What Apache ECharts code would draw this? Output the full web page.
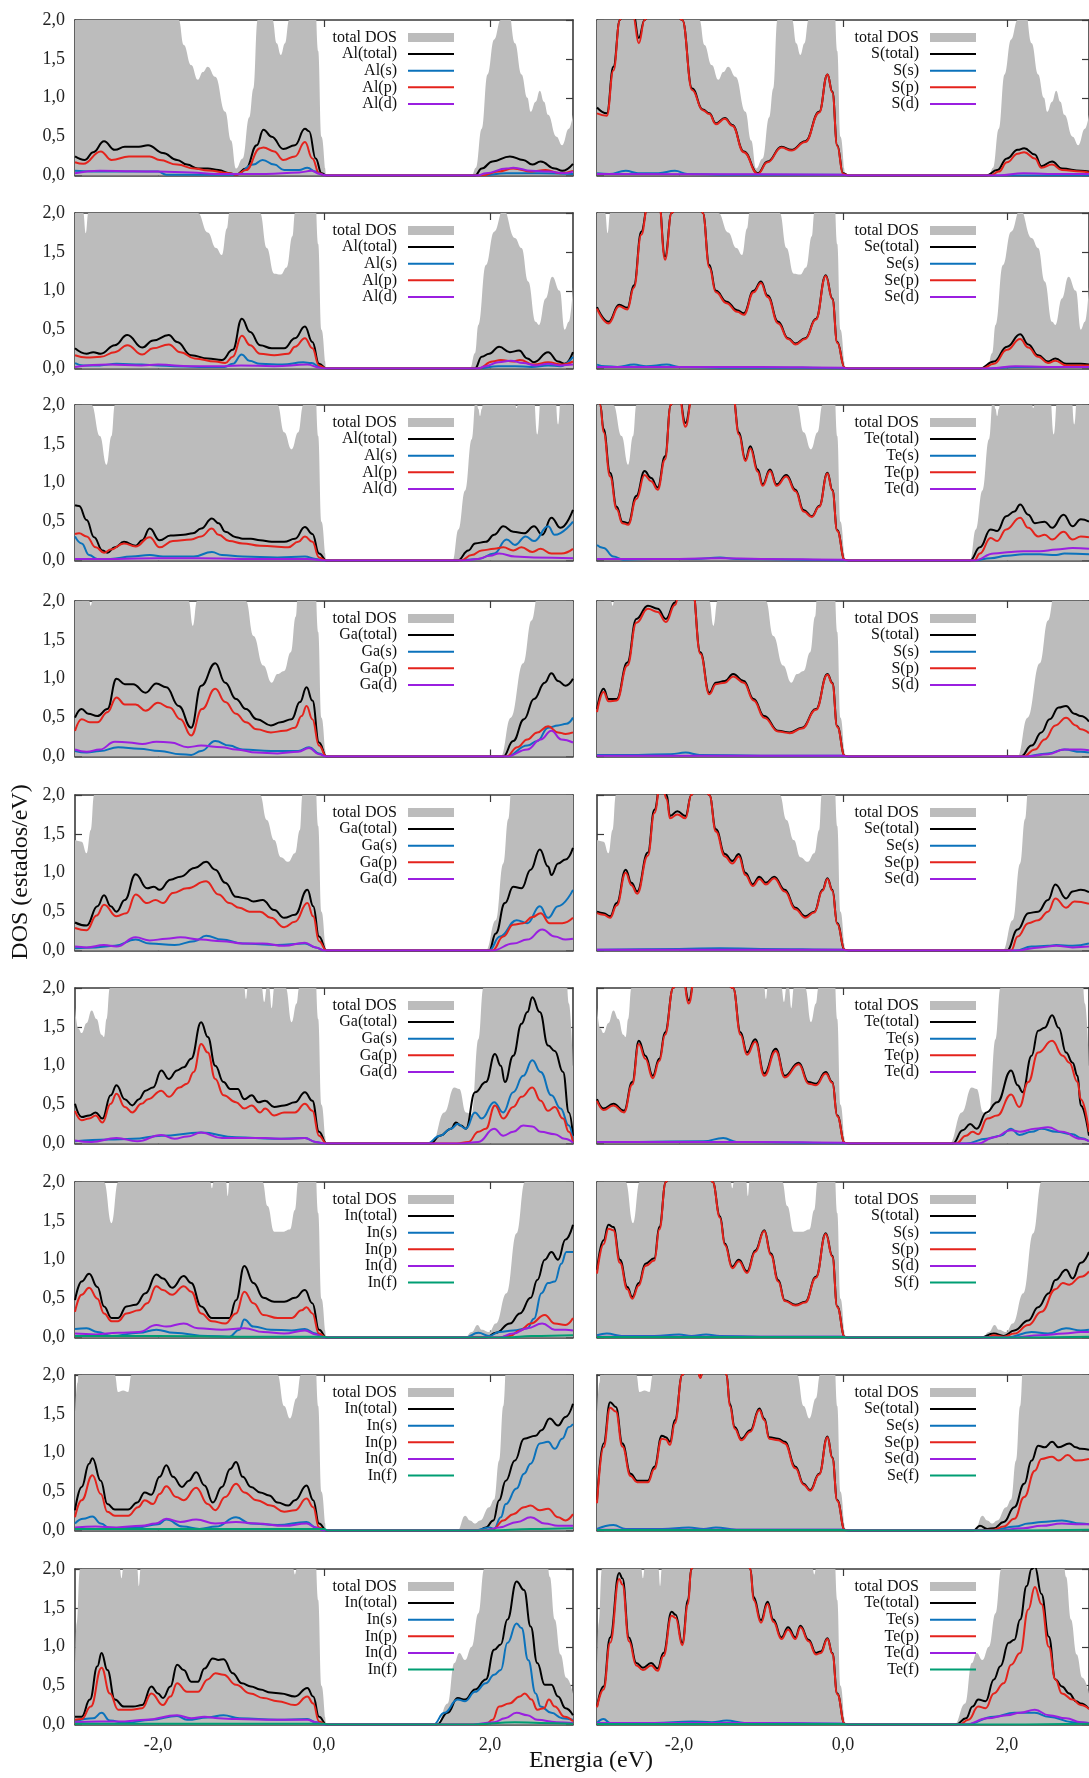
<!DOCTYPE html>
<html>
<head>
<meta charset="utf-8">
<script src="https://cdn.jsdelivr.net/npm/echarts@6/dist/echarts.min.js"></script>
<style>
html,body{margin:0;padding:0;background:#fff}
#chart{width:1089px;height:1778px}
</style>
</head>
<body>
<div id="chart"></div>
<script>
// Projected densities of states (states/eV) vs energy (eV), pairs [E, DOS].
// Total DOS of each compound (drawn as grey area, clipped at 2.0)
const AlS_tdos = [[-3,2.6],[-1.82,2.6],[-1.75,2.0],[-1.69,1.68],[-1.6,1.42],[-1.52,1.23],[-1.46,1.33],[-1.4,1.40],[-1.31,1.27],[-1.19,0.82],[-1.12,0.45],[-1.06,0.09],[-0.98,0.22],[-0.9,0.75],[-0.85,1.12],[-0.8,2.0],[-0.75,2.6],[-0.68,2.6],[-0.62,2.0],[-0.57,1.7],[-0.52,1.55],[-0.47,1.7],[-0.42,2.0],[-0.36,2.6],[-0.12,2.6],[-0.07,1.6],[-0.03,0.5],[0.03,0],[1.78,0],[1.83,0.1],[1.9,0.6],[1.97,1.3],[2.05,1.75],[2.13,2.0],[2.22,2.15],[2.3,1.7],[2.38,1.3],[2.45,1.0],[2.49,0.82],[2.55,0.95],[2.6,1.09],[2.65,0.95],[2.7,0.78],[2.8,0.5],[2.87,0.39],[2.95,0.6],[3.0,0.78]];
const AlSe_tdos = [[-3,2.6],[-2.93,2.6],[-2.9,2.0],[-2.87,1.74],[-2.84,2.0],[-2.8,2.6],[-1.58,2.6],[-1.52,2.0],[-1.4,1.75],[-1.3,1.55],[-1.23,1.46],[-1.17,1.8],[-1.14,2.0],[-1.1,2.6],[-0.82,2.6],[-0.77,2.0],[-0.69,1.55],[-0.6,1.22],[-0.52,1.21],[-0.45,1.3],[-0.38,1.7],[-0.35,2.0],[-0.3,2.6],[-0.12,2.6],[-0.07,1.6],[-0.03,0.5],[0.03,0],[1.76,0],[1.82,0.2],[1.86,0.56],[1.95,1.33],[2.05,1.76],[2.16,2.05],[2.3,1.68],[2.38,1.55],[2.46,1.12],[2.55,0.6],[2.59,0.56],[2.67,0.9],[2.75,1.18],[2.84,1.0],[2.9,0.5],[2.95,0.6],[3.0,1.05]];
const AlTe_tdos = [[-3,2.6],[-2.84,2.6],[-2.8,2.0],[-2.7,1.6],[-2.62,1.23],[-2.56,1.6],[-2.52,2.0],[-2.48,2.6],[-0.62,2.6],[-0.56,2.0],[-0.48,1.65],[-0.39,1.43],[-0.31,1.65],[-0.25,2.0],[-0.21,2.6],[-0.12,2.6],[-0.07,1.6],[-0.03,0.5],[0.03,0],[1.55,0],[1.62,0.4],[1.7,0.9],[1.78,1.56],[1.83,2.1],[1.86,1.95],[1.88,1.86],[1.9,1.95],[1.93,2.2],[2.28,2.2],[2.32,1.96],[2.36,2.2],[2.52,2.2],[2.57,1.62],[2.62,2.2],[2.78,2.2],[2.82,1.75],[2.86,2.2],[3.0,2.6]];
const GaS_tdos = [[-3,2.6],[-2.86,2.6],[-2.83,2.0],[-2.81,1.94],[-2.79,2.0],[-2.76,2.6],[-1.66,2.6],[-1.63,2.0],[-1.58,1.68],[-1.53,2.0],[-1.5,2.6],[-0.98,2.6],[-0.94,2.0],[-0.85,1.55],[-0.73,1.17],[-0.63,0.95],[-0.56,1.06],[-0.48,1.1],[-0.4,1.34],[-0.34,1.8],[-0.31,2.2],[-0.28,2.6],[-0.12,2.6],[-0.07,1.6],[-0.03,0.5],[0.03,0],[2.13,0],[2.25,0.5],[2.4,1.2],[2.5,1.75],[2.58,2.1],[2.65,2.6],[3.0,2.6]];
const GaSe_tdos = [[-3,1.42],[-2.92,1.4],[-2.86,1.25],[-2.81,1.55],[-2.77,2.0],[-2.73,2.6],[-0.82,2.6],[-0.77,2.0],[-0.69,1.68],[-0.6,1.42],[-0.52,1.2],[-0.43,1.14],[-0.35,1.25],[-0.29,1.55],[-0.26,2.0],[-0.23,2.6],[-0.12,2.6],[-0.07,1.6],[-0.03,0.5],[0.03,0],[1.95,0],[2.07,0.39],[2.16,1.12],[2.22,1.69],[2.26,2.1],[2.3,2.6],[3.0,2.6]];
const GaTe_tdos = [[-3,1.75],[-2.96,1.48],[-2.92,1.42],[-2.86,1.55],[-2.8,1.71],[-2.74,1.6],[-2.68,1.4],[-2.65,1.37],[-2.62,1.6],[-2.58,2.0],[-2.55,2.6],[-0.99,2.6],[-0.96,2.0],[-0.94,1.86],[-0.92,2.0],[-0.89,2.6],[-0.78,2.6],[-0.75,2.0],[-0.72,1.82],[-0.69,2.0],[-0.66,2.0],[-0.63,1.74],[-0.6,2.0],[-0.56,2.6],[-0.5,2.6],[-0.46,2.0],[-0.39,1.56],[-0.33,1.8],[-0.3,2.0],[-0.27,2.6],[-0.12,2.6],[-0.07,1.6],[-0.03,0.5],[0.03,0],[1.3,0],[1.45,0.4],[1.57,0.72],[1.63,0.7],[1.71,0.4],[1.78,0.38],[1.86,1.34],[1.92,2.0],[1.96,2.6],[2.9,2.6],[2.95,1.8],[3.0,1.0]];
const InS_tdos = [[-3,2.6],[-2.7,2.6],[-2.65,2.0],[-2.56,1.47],[-2.48,2.0],[-2.43,2.6],[-1.4,2.6],[-1.37,2.0],[-1.35,1.92],[-1.33,2.0],[-1.3,2.6],[-1.21,2.6],[-1.18,2.0],[-1.16,1.82],[-1.14,2.0],[-1.11,2.6],[-0.8,2.6],[-0.74,2.0],[-0.68,1.69],[-0.6,1.36],[-0.5,1.36],[-0.41,1.39],[-0.35,1.64],[-0.31,2.0],[-0.27,2.6],[-0.12,2.6],[-0.07,1.6],[-0.03,0.5],[0.03,0],[1.7,0],[1.78,0.07],[1.85,0.16],[1.9,0.1],[1.99,0.07],[2.07,0.18],[2.2,0.57],[2.32,1.34],[2.42,2.0],[2.48,2.6],[3.0,2.6]];
const InSe_tdos = [[-3,1.5],[-2.97,1.9],[-2.94,2.6],[-2.55,2.6],[-2.52,2.0],[-2.48,1.78],[-2.42,1.8],[-2.36,1.78],[-2.32,2.0],[-2.28,2.6],[-0.62,2.6],[-0.56,2.0],[-0.48,1.6],[-0.41,1.44],[-0.33,1.7],[-0.28,2.0],[-0.24,2.6],[-0.12,2.6],[-0.07,1.6],[-0.03,0.5],[0.03,0],[1.61,0],[1.7,0.19],[1.76,0.13],[1.82,0.09],[1.88,0.13],[1.99,0.3],[2.05,0.4],[2.11,0.9],[2.16,1.6],[2.2,2.2],[2.25,2.6],[3.0,2.6]];
const InTe_tdos = [[-3,0.72],[-2.98,1.3],[-2.94,2.0],[-2.9,2.6],[-2.5,2.6],[-2.46,2.0],[-2.44,1.88],[-2.42,2.0],[-2.38,2.6],[-2.28,2.6],[-2.25,2.0],[-2.23,1.78],[-2.21,2.0],[-2.18,2.6],[-0.4,2.6],[-0.37,2.0],[-0.35,1.93],[-0.33,2.0],[-0.3,2.6],[-0.12,2.6],[-0.07,1.6],[-0.03,0.5],[0.03,0],[1.36,0],[1.49,0.27],[1.57,0.79],[1.63,0.92],[1.7,0.83],[1.78,1.0],[1.86,1.43],[1.93,2.0],[1.97,2.6],[2.66,2.6],[2.72,1.9],[2.78,1.35],[2.85,0.9],[2.92,0.6],[3.0,0.4]];

// Al in Al-S
const AlS_Al_total = [[-3,0.245],[-2.88,0.2],[-2.78,0.3],[-2.65,0.44],[-2.52,0.33],[-2.4,0.37],[-2.23,0.37],[-2.12,0.39],[-1.94,0.29],[-1.77,0.2],[-1.65,0.14],[-1.52,0.09],[-1.4,0.09],[-1.27,0.07],[-1.14,0.03],[-1.06,0.01],[-0.94,0.09],[-0.81,0.39],[-0.73,0.59],[-0.63,0.5],[-0.49,0.34],[-0.35,0.39],[-0.23,0.6],[-0.18,0.57],[-0.1,0.22],[-0.03,0.03],[0.03,0],[1.82,0],[1.9,0.09],[2.03,0.18],[2.24,0.245],[2.4,0.2],[2.51,0.14],[2.61,0.18],[2.78,0.09],[2.87,0.06],[3.0,0.15]];
const AlS_Al_s = [[-3,0.06],[-2.8,0.05],[-2.4,0.05],[-2.0,0.05],[-1.9,0.01],[-1.5,0.01],[-1.06,0.01],[-0.85,0.14],[-0.74,0.2],[-0.6,0.14],[-0.48,0.07],[-0.3,0.07],[-0.2,0.1],[-0.1,0.05],[0.0,0],[1.9,0],[2.2,0.03],[2.6,0.03],[3.0,0.02]];
const AlS_Al_p = [[-3,0.17],[-2.9,0.15],[-2.69,0.31],[-2.56,0.2],[-2.35,0.245],[-2.1,0.245],[-1.98,0.2],[-1.77,0.14],[-1.56,0.09],[-1.4,0.065],[-1.14,0.03],[-1.06,0.01],[-0.94,0.07],[-0.77,0.35],[-0.73,0.36],[-0.6,0.31],[-0.49,0.2],[-0.35,0.245],[-0.23,0.43],[-0.14,0.22],[-0.06,0.03],[0.01,0],[1.9,0],[2.1,0.05],[2.28,0.09],[2.5,0.05],[2.67,0.07],[2.85,0.03],[3.0,0.06]];
const AlS_Al_d = [[-3,0.03],[-2.7,0.06],[-2.3,0.055],[-2.0,0.05],[-1.6,0.04],[-1.3,0.02],[-1.0,0.02],[-0.7,0.02],[-0.3,0.04],[-0.15,0.06],[-0.05,0.02],[0.03,0],[1.85,0],[1.95,0.03],[2.2,0.09],[2.28,0.1],[2.5,0.06],[2.7,0.05],[2.9,0.03],[3.0,0.05]];
// S in Al-S
const AlS_S_total = [[-3,0.875],[-2.88,0.8],[-2.8,1.4],[-2.72,2.0],[-2.65,2.3],[-2.56,2.1],[-2.49,1.77],[-2.42,2.0],[-2.3,2.4],[-2.1,2.3],[-1.96,2.0],[-1.84,1.12],[-1.71,0.85],[-1.63,0.8],[-1.55,0.67],[-1.44,0.74],[-1.35,0.65],[-1.21,0.31],[-1.04,0.03],[-0.92,0.18],[-0.75,0.37],[-0.63,0.33],[-0.46,0.44],[-0.29,0.82],[-0.19,1.3],[-0.13,1.08],[-0.07,0.39],[0.0,0.03],[0.07,0],[1.75,0],[1.88,0.07],[2.0,0.22],[2.13,0.33],[2.21,0.35],[2.34,0.27],[2.42,0.12],[2.55,0.18],[2.67,0.09],[2.9,0.06],[3.0,0.05]];
const AlS_S_s = [[-3,0.03],[-2.85,0.02],[-2.65,0.06],[-2.5,0.03],[-2.25,0.03],[-2.05,0.06],[-1.9,0.02],[-1.5,0.01],[-1.0,0.01],[0,0.01],[0.05,0],[3.0,0]];
const AlS_S_p = [[-3,0.8],[-2.88,0.77],[-2.8,1.35],[-2.72,2.0],[-2.65,2.3],[-2.56,2.05],[-2.49,1.7],[-2.42,2.0],[-2.3,2.4],[-2.1,2.3],[-1.96,2.0],[-1.84,1.1],[-1.71,0.84],[-1.63,0.79],[-1.55,0.66],[-1.44,0.73],[-1.35,0.64],[-1.21,0.3],[-1.04,0.02],[-0.92,0.17],[-0.75,0.36],[-0.63,0.32],[-0.46,0.43],[-0.29,0.81],[-0.19,1.3],[-0.13,1.07],[-0.07,0.38],[0.0,0.02],[0.07,0],[1.8,0],[1.9,0.05],[2.0,0.17],[2.13,0.28],[2.21,0.3],[2.34,0.22],[2.42,0.1],[2.55,0.14],[2.67,0.07],[2.9,0.05],[3.0,0.04]];
const AlS_S_d = [[-3,0.02],[-1.0,0.015],[0,0.01],[0.05,0],[1.9,0],[2.2,0.03],[2.5,0.02],[3.0,0.02]];

// Al in Al-Se
const AlSe_Al_total = [[-3,0.26],[-2.86,0.19],[-2.78,0.21],[-2.69,0.19],[-2.52,0.3],[-2.37,0.43],[-2.19,0.27],[-2.06,0.36],[-1.87,0.43],[-1.77,0.34],[-1.6,0.17],[-1.4,0.13],[-1.23,0.11],[-1.1,0.24],[-0.99,0.64],[-0.89,0.47],[-0.77,0.3],[-0.63,0.26],[-0.48,0.26],[-0.35,0.39],[-0.23,0.54],[-0.14,0.34],[-0.06,0.06],[0.03,0],[1.82,0],[1.9,0.15],[1.99,0.19],[2.11,0.28],[2.24,0.21],[2.35,0.23],[2.45,0.13],[2.53,0.08],[2.7,0.21],[2.82,0.09],[2.9,0.06],[3.0,0.21]];
const AlSe_Al_s = [[-3,0.07],[-2.9,0.04],[-2.7,0.04],[-2.5,0.06],[-2.2,0.05],[-2.0,0.04],[-1.8,0.03],[-1.5,0.02],[-1.2,0.02],[-1.1,0.06],[-0.99,0.18],[-0.9,0.1],[-0.77,0.06],[-0.5,0.05],[-0.25,0.08],[-0.15,0.07],[-0.05,0.02],[0.02,0],[1.85,0],[2.1,0.03],[2.3,0.03],[2.5,0.02],[2.7,0.04],[2.85,0.03],[3.0,0.15]];
const AlSe_Al_p = [[-3,0.17],[-2.86,0.14],[-2.69,0.15],[-2.52,0.21],[-2.37,0.3],[-2.19,0.18],[-2.06,0.26],[-1.87,0.31],[-1.73,0.21],[-1.56,0.13],[-1.31,0.09],[-1.19,0.07],[-1.1,0.15],[-0.99,0.42],[-0.89,0.3],[-0.77,0.19],[-0.6,0.17],[-0.43,0.19],[-0.35,0.28],[-0.23,0.39],[-0.14,0.26],[-0.06,0.04],[0.03,0],[1.86,0],[2.03,0.09],[2.13,0.11],[2.28,0.09],[2.36,0.11],[2.53,0.05],[2.7,0.08],[2.87,0.05],[3.0,0.09]];
const AlSe_Al_d = [[-3,0.02],[-2.6,0.05],[-2.2,0.04],[-2.0,0.05],[-1.6,0.03],[-1.2,0.03],[-1.0,0.04],[-0.6,0.03],[-0.2,0.05],[-0.05,0.01],[0.02,0],[1.85,0],[1.95,0.03],[2.1,0.08],[2.25,0.1],[2.4,0.07],[2.55,0.04],[2.7,0.06],[2.85,0.04],[3.0,0.05]];
// Se in Al-Se
const AlSe_Se_total = [[-3,0.79],[-2.86,0.6],[-2.73,0.82],[-2.63,0.78],[-2.55,1.07],[-2.46,1.76],[-2.38,2.1],[-2.25,2.2],[-2.17,1.44],[-2.09,2.0],[-1.95,2.5],[-1.78,2.3],[-1.71,2.0],[-1.63,1.33],[-1.55,1.0],[-1.42,0.86],[-1.29,0.75],[-1.21,0.71],[-1.09,1.0],[-1.0,1.12],[-0.92,0.94],[-0.79,0.6],[-0.67,0.39],[-0.58,0.32],[-0.46,0.39],[-0.33,0.64],[-0.21,1.2],[-0.13,0.9],[-0.07,0.34],[0.02,0.01],[0.07,0],[1.67,0],[1.84,0.09],[2.0,0.28],[2.16,0.44],[2.26,0.31],[2.38,0.17],[2.5,0.09],[2.59,0.13],[2.72,0.06],[2.9,0.06],[3.0,0.05]];
const AlSe_Se_s = [[-3,0.05],[-2.9,0.03],[-2.75,0.02],[-2.55,0.05],[-2.4,0.03],[-2.15,0.05],[-2.0,0.02],[-1.5,0.01],[-0.5,0.01],[0.03,0],[1.8,0],[2.1,0.02],[2.5,0.02],[3.0,0.02]];
const AlSe_Se_p = [[-3,0.77],[-2.86,0.58],[-2.73,0.8],[-2.63,0.76],[-2.55,1.04],[-2.46,1.72],[-2.38,2.1],[-2.25,2.2],[-2.17,1.4],[-2.09,2.0],[-1.95,2.5],[-1.78,2.3],[-1.71,2.0],[-1.63,1.3],[-1.55,0.98],[-1.42,0.84],[-1.29,0.73],[-1.21,0.69],[-1.09,0.98],[-1.0,1.1],[-0.92,0.92],[-0.79,0.58],[-0.67,0.38],[-0.58,0.31],[-0.46,0.38],[-0.33,0.63],[-0.21,1.19],[-0.13,0.89],[-0.07,0.33],[0.02,0.01],[0.07,0],[1.7,0],[1.84,0.06],[2.0,0.24],[2.16,0.38],[2.26,0.27],[2.38,0.15],[2.5,0.07],[2.59,0.1],[2.72,0.04],[2.9,0.04],[3.0,0.04]];
const AlSe_Se_d = [[-3,0.02],[-2.0,0.02],[-1.0,0.02],[0,0.01],[0.05,0],[1.8,0],[2.1,0.03],[2.5,0.02],[3.0,0.02]];

// Al in Al-Te
const AlTe_Al_total = [[-3,0.71],[-2.95,0.7],[-2.86,0.52],[-2.77,0.3],[-2.67,0.13],[-2.61,0.1],[-2.52,0.17],[-2.41,0.24],[-2.27,0.19],[-2.19,0.26],[-2.1,0.41],[-1.98,0.26],[-1.85,0.32],[-1.69,0.33],[-1.58,0.35],[-1.48,0.41],[-1.35,0.54],[-1.27,0.48],[-1.19,0.37],[-1.06,0.3],[-0.98,0.28],[-0.88,0.28],[-0.77,0.26],[-0.63,0.24],[-0.48,0.24],[-0.35,0.28],[-0.23,0.43],[-0.14,0.34],[-0.06,0.09],[0.03,0],[1.61,0],[1.74,0.13],[1.82,0.22],[1.95,0.24],[2.05,0.33],[2.16,0.44],[2.28,0.37],[2.41,0.35],[2.53,0.44],[2.63,0.33],[2.74,0.55],[2.85,0.42],[3.0,0.65]];
const AlTe_Al_s = [[-3,0.31],[-2.92,0.22],[-2.83,0.07],[-2.73,0.02],[-2.57,0.02],[-2.32,0.05],[-2.1,0.07],[-1.94,0.05],[-1.57,0.05],[-1.35,0.11],[-1.23,0.07],[-0.98,0.05],[-0.56,0.04],[-0.23,0.05],[-0.1,0.02],[0.0,0],[1.61,0],[1.86,0.02],[2.05,0.09],[2.2,0.27],[2.3,0.2],[2.43,0.31],[2.53,0.25],[2.7,0.44],[2.78,0.33],[3.0,0.5]];
const AlTe_Al_p = [[-3,0.34],[-2.95,0.35],[-2.86,0.31],[-2.75,0.17],[-2.65,0.1],[-2.57,0.14],[-2.41,0.22],[-2.27,0.18],[-2.1,0.3],[-1.98,0.17],[-1.82,0.25],[-1.6,0.27],[-1.48,0.31],[-1.35,0.41],[-1.27,0.33],[-1.14,0.25],[-0.98,0.22],[-0.77,0.19],[-0.6,0.18],[-0.43,0.17],[-0.31,0.24],[-0.23,0.31],[-0.14,0.24],[-0.06,0.04],[0.03,0],[1.65,0],[1.78,0.07],[1.9,0.13],[2.05,0.15],[2.16,0.17],[2.28,0.13],[2.38,0.17],[2.51,0.11],[2.61,0.15],[2.74,0.09],[2.86,0.09],[3.0,0.15]];
const AlTe_Al_d = [[-3,0.02],[-2.5,0.02],[-2.0,0.03],[-1.5,0.03],[-1.0,0.02],[-0.2,0.02],[0.02,0],[1.7,0],[1.85,0.02],[2.0,0.06],[2.11,0.09],[2.3,0.05],[2.53,0.04],[3.0,0.03]];
// Te in Al-Te
const AlTe_Te_total = [[-3,2.6],[-2.96,2.0],[-2.92,1.69],[-2.84,1.13],[-2.76,0.69],[-2.69,0.5],[-2.62,0.48],[-2.52,0.83],[-2.42,1.15],[-2.34,1.06],[-2.26,0.94],[-2.17,1.34],[-2.1,2.0],[-2.02,2.3],[-1.92,1.77],[-1.84,2.1],[-1.6,2.6],[-1.34,2.1],[-1.27,1.65],[-1.19,1.3],[-1.13,1.47],[-1.04,1.17],[-0.98,0.98],[-0.89,1.17],[-0.81,0.98],[-0.69,1.1],[-0.58,0.91],[-0.48,0.65],[-0.38,0.57],[-0.29,0.7],[-0.19,1.13],[-0.13,0.91],[-0.07,0.39],[0.02,0.01],[0.07,0],[1.55,0],[1.67,0.17],[1.8,0.4],[1.88,0.38],[1.99,0.57],[2.09,0.63],[2.16,0.72],[2.26,0.59],[2.34,0.48],[2.46,0.5],[2.55,0.42],[2.69,0.59],[2.8,0.44],[2.9,0.53],[3.0,0.5]];
const AlTe_Te_s = [[-3,0.2],[-2.92,0.16],[-2.8,0.05],[-2.68,0.01],[-2.3,0.02],[-1.8,0.02],[-1.5,0.04],[-1.3,0.02],[-0.5,0.01],[0.03,0],[1.6,0],[1.8,0.03],[2.0,0.06],[2.2,0.08],[2.4,0.08],[2.6,0.07],[2.7,0.09],[3.0,0.08]];
const AlTe_Te_p = [[-3,2.6],[-2.96,2.0],[-2.92,1.65],[-2.84,1.08],[-2.76,0.66],[-2.69,0.48],[-2.62,0.46],[-2.52,0.79],[-2.42,1.1],[-2.34,1.02],[-2.26,0.91],[-2.17,1.3],[-2.1,2.0],[-2.02,2.3],[-1.92,1.72],[-1.84,2.1],[-1.6,2.6],[-1.34,2.1],[-1.27,1.62],[-1.19,1.28],[-1.13,1.44],[-1.04,1.14],[-0.98,0.96],[-0.89,1.15],[-0.81,0.96],[-0.69,1.08],[-0.58,0.89],[-0.48,0.63],[-0.38,0.56],[-0.29,0.69],[-0.19,1.12],[-0.13,0.9],[-0.07,0.38],[0.02,0.01],[0.07,0],[1.6,0],[1.67,0.09],[1.8,0.29],[1.88,0.25],[1.99,0.4],[2.16,0.55],[2.26,0.42],[2.38,0.31],[2.46,0.33],[2.55,0.27],[2.69,0.37],[2.8,0.27],[2.9,0.31],[3.0,0.3]];
const AlTe_Te_d = [[-3,0.02],[-2.0,0.02],[-1.5,0.03],[-1.0,0.02],[0,0.01],[0.05,0],[1.6,0],[1.84,0.09],[2.05,0.11],[2.2,0.12],[2.4,0.12],[2.6,0.14],[2.8,0.16],[3.0,0.15]];

// Ga in Ga-S
const GaS_Ga_total = [[-3,0.5],[-2.92,0.61],[-2.84,0.55],[-2.73,0.52],[-2.61,0.61],[-2.5,1.0],[-2.4,0.93],[-2.3,0.93],[-2.15,0.82],[-2.02,0.94],[-1.9,0.89],[-1.75,0.65],[-1.6,0.37],[-1.48,0.91],[-1.31,1.2],[-1.19,0.95],[-1.06,0.74],[-0.94,0.61],[-0.81,0.48],[-0.64,0.4],[-0.52,0.44],[-0.39,0.48],[-0.29,0.7],[-0.21,0.89],[-0.14,0.72],[-0.06,0.18],[0.03,0],[2.16,0],[2.28,0.2],[2.41,0.48],[2.53,0.74],[2.66,0.95],[2.74,1.07],[2.82,0.97],[2.91,0.91],[3.0,1.0]];
const GaS_Ga_s = [[-3,0.07],[-2.86,0.05],[-2.7,0.07],[-2.48,0.12],[-2.23,0.1],[-1.98,0.07],[-1.73,0.03],[-1.6,0.02],[-1.48,0.07],[-1.31,0.2],[-1.14,0.14],[-0.98,0.09],[-0.64,0.07],[-0.31,0.07],[-0.18,0.12],[-0.06,0.04],[0.03,0],[2.2,0],[2.45,0.14],[2.57,0.2],[2.7,0.37],[2.82,0.4],[2.92,0.42],[3.0,0.5]];
const GaS_Ga_p = [[-3,0.33],[-2.92,0.48],[-2.82,0.44],[-2.73,0.44],[-2.61,0.57],[-2.5,0.76],[-2.4,0.67],[-2.27,0.67],[-2.15,0.59],[-2.0,0.69],[-1.86,0.63],[-1.73,0.48],[-1.6,0.27],[-1.47,0.61],[-1.31,0.87],[-1.19,0.7],[-1.06,0.55],[-0.94,0.44],[-0.81,0.35],[-0.64,0.31],[-0.48,0.33],[-0.35,0.37],[-0.27,0.52],[-0.21,0.65],[-0.14,0.48],[-0.06,0.14],[0.03,0],[2.2,0],[2.33,0.12],[2.45,0.22],[2.57,0.31],[2.7,0.39],[2.82,0.31],[2.91,0.29],[3.0,0.31]];
const GaS_Ga_d = [[-3,0.09],[-2.86,0.06],[-2.7,0.09],[-2.52,0.19],[-2.35,0.18],[-2.19,0.16],[-2.02,0.19],[-1.85,0.18],[-1.64,0.12],[-1.48,0.14],[-1.23,0.12],[-1.06,0.09],[-0.81,0.05],[-0.56,0.04],[-0.31,0.06],[-0.18,0.11],[-0.06,0.03],[0.03,0],[2.2,0],[2.45,0.09],[2.61,0.22],[2.74,0.33],[2.86,0.22],[3.0,0.18]];
// S in Ga-S
const GaS_S_total = [[-3,0.61],[-2.92,0.87],[-2.86,0.74],[-2.76,0.74],[-2.63,1.21],[-2.52,1.77],[-2.38,1.94],[-2.26,1.9],[-2.16,1.77],[-2.05,1.98],[-1.95,2.5],[-1.84,2.2],[-1.74,1.34],[-1.63,0.82],[-1.55,0.95],[-1.44,0.97],[-1.34,1.06],[-1.21,0.97],[-1.09,0.74],[-0.96,0.52],[-0.79,0.33],[-0.65,0.31],[-0.5,0.37],[-0.33,0.61],[-0.19,1.06],[-0.13,0.95],[-0.07,0.39],[0.02,0.01],[0.07,0],[2.17,0],[2.3,0.14],[2.42,0.31],[2.52,0.48],[2.63,0.63],[2.72,0.65],[2.82,0.55],[2.9,0.52],[3.0,0.45]];
const GaS_S_s = [[-3,0.02],[-2.5,0.02],[-2.1,0.03],[-1.92,0.05],[-1.75,0.02],[-1.0,0.01],[0.0,0.01],[0.05,0],[2.2,0],[2.5,0.04],[2.7,0.09],[2.9,0.06],[3.0,0.05]];
const GaS_S_p = [[-3,0.57],[-2.92,0.83],[-2.86,0.71],[-2.76,0.72],[-2.63,1.17],[-2.52,1.72],[-2.38,1.9],[-2.26,1.86],[-2.16,1.73],[-2.05,1.95],[-1.95,2.5],[-1.84,2.2],[-1.74,1.32],[-1.63,0.8],[-1.55,0.93],[-1.44,0.95],[-1.34,1.03],[-1.21,0.95],[-1.09,0.72],[-0.96,0.5],[-0.79,0.32],[-0.65,0.3],[-0.5,0.36],[-0.33,0.6],[-0.19,1.05],[-0.13,0.94],[-0.07,0.38],[0.02,0.01],[0.07,0],[2.2,0],[2.34,0.09],[2.46,0.22],[2.59,0.4],[2.72,0.5],[2.84,0.4],[2.9,0.35],[3.0,0.3]];
const GaS_S_d = [[-3,0.01],[-1.5,0.01],[0,0.01],[0.05,0],[2.25,0],[2.5,0.03],[2.7,0.09],[2.9,0.09],[3.0,0.08]];

// Ga in Ga-Se
const GaSe_Ga_total = [[-3,0.36],[-2.86,0.32],[-2.73,0.57],[-2.65,0.71],[-2.57,0.57],[-2.5,0.5],[-2.4,0.65],[-2.27,0.98],[-2.13,0.8],[-2.05,0.82],[-1.98,0.78],[-1.85,0.91],[-1.73,0.95],[-1.56,1.06],[-1.42,1.14],[-1.31,1.04],[-1.19,0.87],[-1.06,0.69],[-0.94,0.67],[-0.85,0.63],[-0.74,0.65],[-0.6,0.52],[-0.48,0.42],[-0.35,0.46],[-0.2,0.78],[-0.13,0.57],[-0.06,0.18],[0.03,0],[1.99,0],[2.07,0.22],[2.18,0.61],[2.28,0.82],[2.38,0.8],[2.49,1.04],[2.6,1.3],[2.7,1.08],[2.74,0.97],[2.82,1.12],[2.91,1.17],[3.0,1.32]];
const GaSe_Ga_s = [[-3,0.03],[-2.75,0.04],[-2.52,0.06],[-2.27,0.14],[-2.1,0.09],[-1.8,0.07],[-1.56,0.12],[-1.42,0.19],[-1.23,0.14],[-0.98,0.09],[-0.56,0.07],[-0.23,0.09],[-0.1,0.04],[0.0,0],[1.99,0],[2.12,0.18],[2.32,0.39],[2.45,0.35],[2.6,0.57],[2.7,0.42],[2.82,0.57],[3.0,0.78]];
const GaSe_Ga_p = [[-3,0.29],[-2.86,0.26],[-2.74,0.45],[-2.65,0.59],[-2.5,0.44],[-2.38,0.48],[-2.27,0.72],[-2.13,0.61],[-2.03,0.65],[-1.94,0.61],[-1.82,0.74],[-1.65,0.8],[-1.42,0.89],[-1.27,0.72],[-1.14,0.61],[-1.02,0.55],[-0.9,0.5],[-0.77,0.5],[-0.64,0.42],[-0.48,0.3],[-0.35,0.37],[-0.2,0.61],[-0.13,0.44],[-0.06,0.12],[0.03,0],[2.03,0],[2.16,0.18],[2.28,0.33],[2.4,0.35],[2.51,0.43],[2.61,0.48],[2.72,0.35],[2.87,0.35],[3.0,0.42]];
const GaSe_Ga_d = [[-3,0.05],[-2.86,0.04],[-2.65,0.07],[-2.5,0.05],[-2.27,0.17],[-2.1,0.13],[-1.9,0.15],[-1.73,0.17],[-1.48,0.14],[-1.23,0.12],[-0.98,0.09],[-0.74,0.09],[-0.48,0.06],[-0.23,0.1],[-0.1,0.04],[0.0,0],[2.03,0],[2.28,0.09],[2.45,0.14],[2.63,0.27],[2.78,0.18],[2.91,0.14],[3.0,0.15]];
// Se in Ga-Se
const GaSe_Se_total = [[-3,0.5],[-2.92,0.48],[-2.84,0.44],[-2.76,0.61],[-2.65,1.04],[-2.58,0.87],[-2.51,0.76],[-2.38,1.26],[-2.3,1.81],[-2.22,2.2],[-2.15,2.0],[-2.11,1.73],[-2.02,1.79],[-1.92,1.73],[-1.85,2.0],[-1.75,2.4],[-1.63,2.0],[-1.55,1.56],[-1.44,1.24],[-1.35,1.15],[-1.27,1.24],[-1.19,1.0],[-1.1,0.85],[-1.02,0.95],[-0.94,0.87],[-0.84,0.95],[-0.71,0.78],[-0.58,0.55],[-0.46,0.44],[-0.35,0.5],[-0.25,0.78],[-0.19,0.93],[-0.13,0.78],[-0.07,0.35],[0.02,0.01],[0.07,0],[2.0,0],[2.13,0.27],[2.26,0.48],[2.38,0.5],[2.5,0.65],[2.59,0.85],[2.72,0.67],[2.8,0.76],[2.9,0.78],[3.0,0.75]];
const GaSe_Se_s = [[-3,0.01],[-2.0,0.02],[-1.5,0.03],[-1.0,0.02],[0,0.01],[0.05,0],[2.1,0],[2.3,0.05],[2.5,0.06],[2.6,0.07],[2.8,0.06],[3.0,0.09]];
const GaSe_Se_p = [[-3,0.48],[-2.92,0.46],[-2.84,0.42],[-2.76,0.58],[-2.65,1.0],[-2.58,0.84],[-2.51,0.73],[-2.38,1.22],[-2.3,1.77],[-2.22,2.2],[-2.15,1.95],[-2.11,1.7],[-2.02,1.75],[-1.92,1.7],[-1.85,2.0],[-1.75,2.4],[-1.63,2.0],[-1.55,1.53],[-1.44,1.21],[-1.35,1.12],[-1.27,1.21],[-1.19,0.97],[-1.1,0.83],[-1.02,0.92],[-0.94,0.85],[-0.84,0.93],[-0.71,0.76],[-0.58,0.53],[-0.46,0.42],[-0.35,0.49],[-0.25,0.77],[-0.19,0.92],[-0.13,0.77],[-0.07,0.34],[0.02,0.01],[0.07,0],[2.05,0],[2.13,0.18],[2.26,0.35],[2.38,0.39],[2.5,0.5],[2.59,0.67],[2.72,0.55],[2.82,0.63],[3.0,0.6]];
const GaSe_Se_d = [[-3,0.01],[-1.0,0.01],[0,0.01],[0.05,0],[2.1,0],[2.4,0.04],[2.6,0.06],[2.8,0.04],[3.0,0.05]];

// Ga in Ga-Te
const GaTe_Ga_total = [[-3,0.51],[-2.92,0.34],[-2.83,0.36],[-2.75,0.4],[-2.67,0.32],[-2.57,0.62],[-2.5,0.75],[-2.4,0.57],[-2.31,0.49],[-2.23,0.57],[-2.15,0.68],[-2.06,0.72],[-1.96,0.94],[-1.87,0.83],[-1.77,0.94],[-1.69,0.98],[-1.6,1.09],[-1.48,1.56],[-1.4,1.37],[-1.31,1.0],[-1.21,0.79],[-1.13,0.7],[-1.04,0.7],[-0.96,0.57],[-0.87,0.62],[-0.79,0.53],[-0.71,0.55],[-0.6,0.47],[-0.48,0.49],[-0.35,0.53],[-0.23,0.66],[-0.14,0.55],[-0.06,0.15],[0.03,0],[1.28,0],[1.4,0.1],[1.53,0.19],[1.59,0.27],[1.65,0.23],[1.71,0.19],[1.82,0.66],[1.95,0.79],[2.06,1.15],[2.13,1.0],[2.18,0.79],[2.28,1.13],[2.38,1.54],[2.45,1.69],[2.51,1.88],[2.6,1.69],[2.7,1.26],[2.78,1.19],[2.88,0.92],[2.95,0.4],[3.0,0.1]];
const GaTe_Ga_s = [[-3,0.03],[-2.6,0.05],[-2.3,0.06],[-1.96,0.1],[-1.48,0.14],[-1.06,0.08],[-0.6,0.06],[-0.23,0.07],[-0.1,0.02],[0.0,0],[1.24,0],[1.4,0.1],[1.53,0.19],[1.61,0.25],[1.71,0.19],[1.82,0.4],[1.9,0.32],[2.05,0.53],[2.16,0.4],[2.28,0.66],[2.4,0.87],[2.51,1.07],[2.61,0.92],[2.74,0.62],[2.85,0.45],[2.95,0.23],[3.0,0.02]];
const GaTe_Ga_p = [[-3,0.42],[-2.92,0.3],[-2.83,0.32],[-2.75,0.36],[-2.67,0.27],[-2.57,0.51],[-2.5,0.64],[-2.4,0.47],[-2.31,0.4],[-2.2,0.51],[-2.12,0.57],[-1.96,0.68],[-1.87,0.6],[-1.74,0.72],[-1.65,0.77],[-1.57,0.92],[-1.48,1.28],[-1.4,1.17],[-1.31,0.83],[-1.21,0.62],[-1.06,0.53],[-0.96,0.45],[-0.87,0.49],[-0.77,0.4],[-0.71,0.45],[-0.6,0.36],[-0.48,0.4],[-0.35,0.4],[-0.23,0.51],[-0.14,0.42],[-0.06,0.1],[0.03,0],[1.6,0],[1.74,0.02],[1.86,0.15],[1.95,0.19],[2.06,0.49],[2.16,0.32],[2.28,0.47],[2.38,0.6],[2.51,0.72],[2.61,0.55],[2.7,0.42],[2.78,0.47],[2.88,0.32],[2.95,0.15],[3.0,0.02]];
const GaTe_Ga_d = [[-3,0.04],[-2.8,0.02],[-2.5,0.07],[-2.25,0.03],[-1.96,0.11],[-1.8,0.06],[-1.65,0.09],[-1.48,0.14],[-1.23,0.07],[-0.96,0.07],[-0.71,0.07],[-0.48,0.06],[-0.23,0.07],[-0.1,0.02],[0.0,0],[1.65,0],[1.86,0.02],[2.05,0.19],[2.16,0.1],[2.28,0.15],[2.4,0.23],[2.51,0.22],[2.61,0.15],[2.78,0.12],[2.9,0.06],[3.0,0.01]];
// Te in Ga-Te
const GaTe_Te_total = [[-3,0.57],[-2.92,0.45],[-2.8,0.51],[-2.67,0.42],[-2.57,0.79],[-2.49,1.32],[-2.41,1.13],[-2.32,0.87],[-2.24,1.09],[-2.17,1.43],[-2.07,2.0],[-1.98,2.4],[-1.88,1.84],[-1.8,2.2],[-1.6,2.6],[-1.34,2.0],[-1.25,1.43],[-1.17,1.17],[-1.07,1.34],[-0.96,0.9],[-0.82,1.22],[-0.71,0.87],[-0.54,1.04],[-0.42,0.79],[-0.33,0.77],[-0.21,0.92],[-0.13,0.79],[-0.07,0.36],[0.02,0.01],[0.07,0],[1.34,0],[1.46,0.17],[1.55,0.25],[1.63,0.19],[1.75,0.4],[1.88,0.53],[2.05,0.94],[2.13,0.75],[2.19,0.66],[2.3,1.13],[2.38,1.45],[2.46,1.49],[2.55,1.65],[2.63,1.49],[2.72,1.17],[2.8,1.04],[2.86,0.87],[2.9,0.49],[3.0,0.1]];
const GaTe_Te_s = [[-3,0.02],[-2.5,0.02],[-1.7,0.03],[-1.46,0.07],[-1.3,0.02],[-0.5,0.01],[0.03,0],[1.5,0],[1.75,0.06],[1.92,0.1],[2.05,0.19],[2.15,0.11],[2.3,0.15],[2.42,0.19],[2.6,0.15],[2.8,0.12],[2.9,0.07],[3.0,0.03]];
const GaTe_Te_p = [[-3,0.55],[-2.92,0.43],[-2.8,0.49],[-2.67,0.4],[-2.57,0.76],[-2.49,1.28],[-2.41,1.09],[-2.32,0.84],[-2.24,1.06],[-2.17,1.4],[-2.07,2.0],[-1.98,2.4],[-1.88,1.8],[-1.8,2.2],[-1.6,2.6],[-1.34,2.0],[-1.25,1.4],[-1.17,1.14],[-1.07,1.31],[-0.96,0.87],[-0.82,1.19],[-0.71,0.85],[-0.54,1.02],[-0.42,0.77],[-0.33,0.75],[-0.21,0.9],[-0.13,0.78],[-0.07,0.35],[0.02,0.01],[0.07,0],[1.38,0],[1.5,0.1],[1.58,0.15],[1.65,0.12],[1.76,0.32],[1.88,0.36],[2.05,0.63],[2.15,0.47],[2.26,0.79],[2.38,1.17],[2.55,1.32],[2.68,1.13],[2.76,1.04],[2.86,0.79],[2.9,0.57],[3.0,0.15]];
const GaTe_Te_d = [[-3,0.02],[-2.0,0.02],[-1.0,0.02],[0,0.01],[0.05,0],[1.65,0],[1.84,0.08],[2.05,0.17],[2.16,0.15],[2.34,0.19],[2.5,0.21],[2.67,0.15],[2.9,0.06],[3.0,0.03]];

// In in In-S
const InS_In_total = [[-3,0.48],[-2.92,0.72],[-2.83,0.82],[-2.73,0.65],[-2.65,0.4],[-2.56,0.25],[-2.48,0.25],[-2.38,0.4],[-2.27,0.42],[-2.15,0.57],[-2.02,0.81],[-1.94,0.76],[-1.83,0.64],[-1.69,0.79],[-1.6,0.7],[-1.48,0.4],[-1.35,0.25],[-1.23,0.25],[-1.14,0.25],[-1.06,0.48],[-0.96,0.92],[-0.85,0.7],[-0.73,0.51],[-0.6,0.46],[-0.48,0.46],[-0.35,0.51],[-0.23,0.61],[-0.14,0.44],[-0.06,0.1],[0.03,0],[1.95,0],[2.07,0.06],[2.24,0.18],[2.36,0.31],[2.49,0.51],[2.57,0.74],[2.66,1.0],[2.74,1.1],[2.82,1.0],[2.91,1.26],[3.0,1.45]];
const InS_In_s = [[-3,0.11],[-2.86,0.12],[-2.73,0.07],[-2.56,0.02],[-2.23,0.06],[-2.02,0.1],[-1.81,0.06],[-1.4,0.02],[-1.14,0.01],[-1.02,0.1],[-0.96,0.23],[-0.85,0.14],[-0.64,0.1],[-0.39,0.09],[-0.23,0.11],[-0.1,0.05],[0.0,0],[1.7,0],[1.86,0.06],[1.99,0.02],[2.11,0.07],[2.28,0.09],[2.45,0.12],[2.53,0.24],[2.62,0.57],[2.7,0.7],[2.78,0.72],[2.86,0.95],[2.92,1.1],[3.0,1.1]];
const InS_In_p = [[-3,0.33],[-2.92,0.55],[-2.83,0.64],[-2.73,0.5],[-2.65,0.31],[-2.56,0.21],[-2.48,0.21],[-2.38,0.31],[-2.23,0.35],[-2.13,0.44],[-2.02,0.66],[-1.94,0.61],[-1.83,0.55],[-1.69,0.66],[-1.6,0.59],[-1.48,0.31],[-1.35,0.21],[-1.19,0.18],[-1.06,0.31],[-0.96,0.59],[-0.85,0.44],[-0.73,0.29],[-0.56,0.25],[-0.39,0.25],[-0.27,0.35],[-0.21,0.39],[-0.14,0.31],[-0.06,0.05],[0.03,0],[2.1,0],[2.24,0.02],[2.36,0.09],[2.49,0.18],[2.66,0.29],[2.78,0.18],[2.91,0.16],[3.0,0.25]];
const InS_In_d = [[-3,0.05],[-2.75,0.04],[-2.48,0.06],[-2.23,0.07],[-2.02,0.16],[-1.9,0.14],[-1.69,0.18],[-1.52,0.12],[-1.23,0.1],[-0.96,0.12],[-0.73,0.07],[-0.48,0.05],[-0.23,0.09],[-0.1,0.04],[0.0,0],[2.1,0],[2.28,0.05],[2.45,0.12],[2.63,0.18],[2.78,0.1],[2.91,0.1],[3.0,0.09]];
const InS_In_f = [[-3,0.02],[-2.0,0.02],[-1.0,0.01],[0,0.01],[0.05,0],[2.2,0],[2.5,0.02],[3.0,0.03]];
// S in In-S
const InS_S_total = [[-3,0.87],[-2.92,1.25],[-2.86,1.45],[-2.8,1.42],[-2.72,1.0],[-2.63,0.65],[-2.57,0.52],[-2.49,0.7],[-2.41,0.95],[-2.3,1.02],[-2.24,1.42],[-2.16,2.0],[-2.05,2.5],[-1.7,2.6],[-1.59,2.0],[-1.5,1.56],[-1.44,1.21],[-1.35,0.91],[-1.27,1.0],[-1.17,0.85],[-1.07,1.12],[-0.96,1.38],[-0.88,1.08],[-0.79,0.74],[-0.71,0.48],[-0.58,0.42],[-0.46,0.46],[-0.33,0.78],[-0.21,1.34],[-0.13,1.05],[-0.07,0.4],[0.02,0.01],[0.07,0],[1.67,0],[1.84,0.05],[1.96,0.02],[2.09,0.09],[2.26,0.22],[2.38,0.39],[2.51,0.57],[2.59,0.74],[2.72,0.87],[2.8,0.76],[2.9,0.96],[3.0,1.1]];
const InS_S_s = [[-3,0.03],[-2.88,0.05],[-2.7,0.02],[-2.3,0.02],[-2.0,0.04],[-1.85,0.02],[-1.67,0.04],[-1.5,0.02],[-1.0,0.01],[0,0.01],[0.05,0],[2.0,0],[2.3,0.07],[2.5,0.05],[2.72,0.12],[2.9,0.09],[3.0,0.1]];
const InS_S_p = [[-3,0.82],[-2.92,1.2],[-2.86,1.4],[-2.8,1.38],[-2.72,0.96],[-2.63,0.62],[-2.57,0.5],[-2.49,0.67],[-2.41,0.92],[-2.3,0.99],[-2.24,1.39],[-2.16,2.0],[-2.05,2.5],[-1.7,2.6],[-1.59,2.0],[-1.5,1.54],[-1.44,1.19],[-1.35,0.89],[-1.27,0.98],[-1.17,0.83],[-1.07,1.1],[-0.96,1.37],[-0.88,1.06],[-0.79,0.72],[-0.71,0.47],[-0.58,0.41],[-0.46,0.45],[-0.33,0.77],[-0.21,1.33],[-0.13,1.04],[-0.07,0.39],[0.02,0.01],[0.07,0],[1.75,0],[1.84,0.03],[1.96,0.01],[2.09,0.05],[2.26,0.16],[2.42,0.33],[2.59,0.62],[2.68,0.7],[2.76,0.68],[2.9,0.78],[3.0,0.85]];
const InS_S_d = [[-3,0.01],[-1.0,0.01],[0,0.01],[0.05,0],[2.1,0],[2.4,0.03],[2.7,0.05],[2.9,0.07],[3.0,0.07]];
const InS_S_f = [[-3,0.005],[0,0.005],[0.05,0],[2.2,0],[3.0,0.01]];

// In in In-Se
const InSe_In_total = [[-3,0.26],[-2.92,0.56],[-2.83,0.86],[-2.79,0.93],[-2.69,0.64],[-2.61,0.34],[-2.52,0.27],[-2.36,0.27],[-2.25,0.36],[-2.16,0.49],[-2.08,0.46],[-1.98,0.69],[-1.9,0.84],[-1.82,0.69],[-1.71,0.56],[-1.63,0.64],[-1.54,0.75],[-1.44,0.58],[-1.34,0.36],[-1.23,0.56],[-1.13,0.79],[-1.06,0.88],[-0.98,0.69],[-0.88,0.56],[-0.77,0.49],[-0.66,0.45],[-0.56,0.36],[-0.43,0.32],[-0.35,0.39],[-0.21,0.58],[-0.13,0.39],[-0.06,0.09],[0.03,0],[1.86,0],[1.95,0.04],[2.04,0.13],[2.11,0.39],[2.19,0.64],[2.3,0.9],[2.41,1.18],[2.55,1.22],[2.62,1.29],[2.72,1.44],[2.82,1.35],[2.91,1.46],[3.0,1.63]];
const InSe_In_s = [[-3,0.09],[-2.9,0.15],[-2.79,0.18],[-2.69,0.09],[-2.57,0.02],[-2.25,0.04],[-2.0,0.08],[-1.9,0.14],[-1.7,0.05],[-1.5,0.02],[-1.3,0.05],[-1.06,0.17],[-0.89,0.09],[-0.56,0.07],[-0.21,0.11],[-0.1,0.04],[0.0,0],[1.82,0],[1.99,0.04],[2.05,0.02],[2.13,0.17],[2.19,0.34],[2.32,0.54],[2.41,0.73],[2.49,0.86],[2.6,1.12],[2.7,1.14],[2.78,1.05],[2.87,1.18],[2.95,1.33],[3.0,1.37]];
const InSe_In_p = [[-3,0.17],[-2.92,0.39],[-2.79,0.71],[-2.69,0.47],[-2.61,0.24],[-2.52,0.19],[-2.36,0.19],[-2.24,0.3],[-2.16,0.39],[-2.06,0.34],[-1.98,0.47],[-1.9,0.57],[-1.78,0.43],[-1.69,0.39],[-1.54,0.55],[-1.4,0.34],[-1.31,0.26],[-1.19,0.43],[-1.06,0.6],[-0.96,0.49],[-0.81,0.39],[-0.64,0.32],[-0.48,0.24],[-0.35,0.26],[-0.21,0.41],[-0.13,0.3],[-0.06,0.04],[0.03,0],[1.95,0],[2.04,0.02],[2.16,0.13],[2.28,0.21],[2.41,0.3],[2.49,0.32],[2.6,0.26],[2.7,0.28],[2.82,0.17],[2.91,0.13],[3.0,0.21]];
const InSe_In_d = [[-3,0.04],[-2.75,0.05],[-2.5,0.04],[-2.2,0.06],[-2.03,0.09],[-1.9,0.15],[-1.73,0.11],[-1.54,0.14],[-1.31,0.09],[-1.06,0.11],[-0.81,0.09],[-0.48,0.06],[-0.21,0.09],[-0.1,0.04],[0.0,0],[1.95,0],[2.11,0.04],[2.33,0.11],[2.49,0.17],[2.66,0.09],[2.82,0.06],[3.0,0.06]];
const InSe_In_f = [[-3,0.02],[-1.0,0.02],[0,0.02],[0.05,0],[2.0,0],[2.5,0.02],[3.0,0.03]];
// Se in In-Se
const InSe_Se_total = [[-3,0.39],[-2.92,1.12],[-2.84,1.65],[-2.77,1.59],[-2.69,1.12],[-2.59,0.73],[-2.51,0.64],[-2.38,0.64],[-2.3,0.82],[-2.21,1.22],[-2.16,1.2],[-2.11,1.14],[-2.05,1.42],[-1.96,2.0],[-1.85,2.4],[-1.78,2.1],[-1.74,1.97],[-1.7,2.1],[-1.5,2.6],[-1.42,2.0],[-1.38,1.63],[-1.32,1.33],[-1.24,1.18],[-1.13,1.29],[-1.02,1.57],[-0.96,1.44],[-0.9,1.2],[-0.79,1.18],[-0.71,1.14],[-0.58,0.82],[-0.48,0.6],[-0.4,0.52],[-0.29,0.73],[-0.19,1.21],[-0.13,0.94],[-0.07,0.39],[0.02,0.01],[0.07,0],[1.59,0],[1.67,0.06],[1.76,0.02],[1.84,0.03],[1.96,0.11],[2.09,0.3],[2.21,0.6],[2.3,0.9],[2.38,1.09],[2.46,1.07],[2.55,1.14],[2.63,1.07],[2.76,1.12],[2.84,1.07],[2.9,1.05],[3.0,1.04]];
const InSe_Se_s = [[-3,0.02],[-2.8,0.07],[-2.65,0.02],[-2.2,0.02],[-1.88,0.04],[-1.7,0.02],[-1.55,0.04],[-1.3,0.01],[0,0.01],[0.05,0],[1.8,0],[2.1,0.05],[2.26,0.09],[2.42,0.11],[2.67,0.13],[2.9,0.09],[3.0,0.08]];
const InSe_Se_p = [[-3,0.35],[-2.92,1.07],[-2.84,1.58],[-2.77,1.53],[-2.69,1.08],[-2.59,0.7],[-2.51,0.62],[-2.38,0.62],[-2.3,0.79],[-2.21,1.18],[-2.16,1.17],[-2.11,1.1],[-2.05,1.38],[-1.96,2.0],[-1.85,2.4],[-1.78,2.1],[-1.74,1.96],[-1.7,2.1],[-1.5,2.6],[-1.42,2.0],[-1.38,1.6],[-1.32,1.31],[-1.24,1.16],[-1.13,1.27],[-1.02,1.55],[-0.96,1.42],[-0.9,1.18],[-0.79,1.16],[-0.71,1.12],[-0.58,0.8],[-0.48,0.59],[-0.4,0.51],[-0.29,0.72],[-0.19,1.2],[-0.13,0.93],[-0.07,0.38],[0.02,0.01],[0.07,0],[1.65,0],[1.84,0.01],[1.96,0.05],[2.09,0.15],[2.21,0.43],[2.34,0.77],[2.42,0.92],[2.55,0.95],[2.63,0.9],[2.74,0.97],[2.84,0.9],[3.0,0.92]];
const InSe_Se_d = [[-3,0.01],[-1,0.01],[0,0.01],[0.05,0],[1.9,0],[2.2,0.03],[2.42,0.06],[2.67,0.09],[2.9,0.08],[3.0,0.08]];
const InSe_Se_f = [[-3,0.005],[0,0.005],[0.05,0],[2.0,0],[3.0,0.01]];

// In in In-Te
const InTe_In_total = [[-3,0.1],[-2.92,0.1],[-2.82,0.32],[-2.73,0.75],[-2.68,0.92],[-2.61,0.7],[-2.52,0.32],[-2.41,0.23],[-2.3,0.23],[-2.19,0.25],[-2.08,0.49],[-2.0,0.4],[-1.94,0.34],[-1.85,0.49],[-1.77,0.77],[-1.69,0.7],[-1.6,0.55],[-1.52,0.55],[-1.44,0.72],[-1.34,0.85],[-1.27,0.83],[-1.21,0.84],[-1.1,0.66],[-0.99,0.53],[-0.88,0.49],[-0.77,0.45],[-0.64,0.41],[-0.52,0.4],[-0.35,0.36],[-0.2,0.47],[-0.13,0.36],[-0.06,0.1],[0.03,0],[1.36,0],[1.49,0.15],[1.61,0.34],[1.7,0.32],[1.82,0.45],[1.95,0.58],[2.05,0.96],[2.13,1.03],[2.21,1.35],[2.32,1.84],[2.41,1.73],[2.49,1.26],[2.57,0.79],[2.66,0.51],[2.74,0.51],[2.82,0.36],[2.91,0.21],[3.0,0.12]];
const InTe_In_s = [[-3,0.04],[-2.78,0.08],[-2.68,0.15],[-2.58,0.05],[-2.4,0.02],[-2.08,0.06],[-1.77,0.11],[-1.65,0.06],[-1.4,0.09],[-1.21,0.12],[-1.02,0.08],[-0.56,0.06],[-0.2,0.07],[-0.1,0.03],[0.0,0],[1.32,0],[1.45,0.15],[1.61,0.32],[1.7,0.3],[1.82,0.42],[1.95,0.53],[2.05,0.64],[2.13,0.7],[2.21,1.05],[2.32,1.3],[2.38,1.24],[2.46,0.83],[2.55,0.4],[2.61,0.23],[2.74,0.15],[2.87,0.08],[3.0,0.06]];
const InTe_In_p = [[-3,0.06],[-2.92,0.07],[-2.81,0.23],[-2.68,0.73],[-2.58,0.4],[-2.48,0.19],[-2.32,0.19],[-2.19,0.21],[-2.08,0.4],[-1.94,0.25],[-1.85,0.36],[-1.77,0.53],[-1.65,0.42],[-1.52,0.42],[-1.4,0.58],[-1.31,0.66],[-1.21,0.64],[-1.06,0.51],[-0.89,0.4],[-0.73,0.34],[-0.56,0.3],[-0.35,0.25],[-0.2,0.36],[-0.13,0.27],[-0.06,0.04],[0.03,0],[1.95,0],[2.03,0.06],[2.11,0.23],[2.23,0.27],[2.36,0.36],[2.42,0.4],[2.5,0.32],[2.57,0.19],[2.65,0.21],[2.71,0.32],[2.78,0.23],[2.9,0.1],[3.0,0.04]];
const InTe_In_d = [[-3,0.03],[-2.7,0.04],[-2.4,0.04],[-2.15,0.06],[-1.77,0.12],[-1.6,0.08],[-1.44,0.1],[-1.27,0.08],[-1.06,0.07],[-0.56,0.06],[-0.2,0.06],[-0.1,0.03],[0.0,0],[1.8,0],[2.05,0.03],[2.18,0.08],[2.32,0.15],[2.45,0.12],[2.57,0.06],[2.8,0.03],[3.0,0.02]];
const InTe_In_f = [[-3,0.01],[0,0.01],[0.05,0],[1.8,0],[2.3,0.03],[2.6,0.02],[3.0,0.01]];
// Te in In-Te
const InTe_Te_total = [[-3,0.23],[-2.92,0.49],[-2.84,1.12],[-2.73,1.95],[-2.69,1.88],[-2.61,1.12],[-2.52,0.79],[-2.44,0.73],[-2.34,0.79],[-2.26,0.72],[-2.19,0.92],[-2.09,1.45],[-2.04,1.41],[-1.96,1.05],[-1.89,1.6],[-1.85,2.0],[-1.75,2.5],[-1.2,2.5],[-1.13,2.0],[-1.09,1.64],[-1.0,1.34],[-0.92,1.58],[-0.85,1.35],[-0.75,1.12],[-0.67,1.25],[-0.58,1.12],[-0.52,1.27],[-0.42,1.09],[-0.33,0.92],[-0.27,0.94],[-0.19,1.11],[-0.13,0.92],[-0.07,0.4],[0.02,0.01],[0.07,0],[1.38,0],[1.5,0.08],[1.58,0.23],[1.65,0.32],[1.74,0.3],[1.84,0.58],[1.92,0.75],[2.02,1.05],[2.09,1.09],[2.16,1.35],[2.24,1.78],[2.3,2.0],[2.34,2.03],[2.42,1.68],[2.51,1.13],[2.59,0.58],[2.67,0.49],[2.76,0.4],[2.84,0.3],[2.9,0.27],[3.0,0.2]];
const InTe_Te_s = [[-3,0.02],[-2.92,0.07],[-2.84,0.02],[-2.3,0.02],[-1.84,0.04],[-1.6,0.03],[-1.42,0.05],[-1.2,0.02],[0,0.01],[0.05,0],[1.5,0],[1.84,0.1],[2.09,0.15],[2.34,0.15],[2.51,0.1],[2.8,0.03],[3.0,0.02]];
const InTe_Te_p = [[-3,0.22],[-2.92,0.45],[-2.84,1.05],[-2.73,1.87],[-2.69,1.8],[-2.61,1.07],[-2.52,0.76],[-2.44,0.7],[-2.34,0.76],[-2.26,0.69],[-2.19,0.88],[-2.09,1.4],[-2.04,1.37],[-1.96,1.02],[-1.89,1.55],[-1.85,2.0],[-1.75,2.5],[-1.2,2.5],[-1.13,2.0],[-1.09,1.6],[-1.0,1.31],[-0.92,1.55],[-0.85,1.32],[-0.75,1.1],[-0.67,1.22],[-0.58,1.1],[-0.52,1.25],[-0.42,1.07],[-0.33,0.9],[-0.27,0.92],[-0.19,1.1],[-0.13,0.91],[-0.07,0.39],[0.02,0.01],[0.07,0],[1.42,0],[1.53,0.06],[1.65,0.23],[1.74,0.21],[1.84,0.4],[1.96,0.53],[2.05,0.77],[2.16,0.92],[2.26,1.48],[2.34,1.77],[2.42,1.55],[2.51,1.0],[2.59,0.58],[2.67,0.4],[2.8,0.32],[2.9,0.25],[3.0,0.2]];
const InTe_Te_d = [[-3,0.02],[-1,0.02],[0,0.01],[0.05,0],[1.5,0],[1.76,0.08],[2.0,0.12],[2.16,0.15],[2.34,0.19],[2.51,0.12],[2.72,0.08],[2.9,0.03],[3.0,0.02]];
const InTe_Te_f = [[-3,0.005],[0,0.005],[0.05,0],[2.0,0],[3.0,0.01]];

// x tick positions (eV)
const X_TICKS = [-2, 0, 2];

// ---- panel table: one row per compound, cation on the left, anion on the right ----
const panels = [
  {row:0, col:0, el:'Al', tdos:AlS_tdos,  total:AlS_Al_total,  s:AlS_Al_s,  p:AlS_Al_p,  d:AlS_Al_d},
  {row:0, col:1, el:'S',  tdos:AlS_tdos,  total:AlS_S_total,   s:AlS_S_s,   p:AlS_S_p,   d:AlS_S_d},
  {row:1, col:0, el:'Al', tdos:AlSe_tdos, total:AlSe_Al_total, s:AlSe_Al_s, p:AlSe_Al_p, d:AlSe_Al_d},
  {row:1, col:1, el:'Se', tdos:AlSe_tdos, total:AlSe_Se_total, s:AlSe_Se_s, p:AlSe_Se_p, d:AlSe_Se_d},
  {row:2, col:0, el:'Al', tdos:AlTe_tdos, total:AlTe_Al_total, s:AlTe_Al_s, p:AlTe_Al_p, d:AlTe_Al_d},
  {row:2, col:1, el:'Te', tdos:AlTe_tdos, total:AlTe_Te_total, s:AlTe_Te_s, p:AlTe_Te_p, d:AlTe_Te_d},
  {row:3, col:0, el:'Ga', tdos:GaS_tdos,  total:GaS_Ga_total,  s:GaS_Ga_s,  p:GaS_Ga_p,  d:GaS_Ga_d},
  {row:3, col:1, el:'S',  tdos:GaS_tdos,  total:GaS_S_total,   s:GaS_S_s,   p:GaS_S_p,   d:GaS_S_d},
  {row:4, col:0, el:'Ga', tdos:GaSe_tdos, total:GaSe_Ga_total, s:GaSe_Ga_s, p:GaSe_Ga_p, d:GaSe_Ga_d},
  {row:4, col:1, el:'Se', tdos:GaSe_tdos, total:GaSe_Se_total, s:GaSe_Se_s, p:GaSe_Se_p, d:GaSe_Se_d},
  {row:5, col:0, el:'Ga', tdos:GaTe_tdos, total:GaTe_Ga_total, s:GaTe_Ga_s, p:GaTe_Ga_p, d:GaTe_Ga_d},
  {row:5, col:1, el:'Te', tdos:GaTe_tdos, total:GaTe_Te_total, s:GaTe_Te_s, p:GaTe_Te_p, d:GaTe_Te_d},
  {row:6, col:0, el:'In', tdos:InS_tdos,  total:InS_In_total,  s:InS_In_s,  p:InS_In_p,  d:InS_In_d,  f:InS_In_f},
  {row:6, col:1, el:'S',  tdos:InS_tdos,  total:InS_S_total,   s:InS_S_s,   p:InS_S_p,   d:InS_S_d,   f:InS_S_f},
  {row:7, col:0, el:'In', tdos:InSe_tdos, total:InSe_In_total, s:InSe_In_s, p:InSe_In_p, d:InSe_In_d, f:InSe_In_f},
  {row:7, col:1, el:'Se', tdos:InSe_tdos, total:InSe_Se_total, s:InSe_Se_s, p:InSe_Se_p, d:InSe_Se_d, f:InSe_Se_f},
  {row:8, col:0, el:'In', tdos:InTe_tdos, total:InTe_In_total, s:InTe_In_s, p:InTe_In_p, d:InTe_In_d, f:InTe_In_f},
  {row:8, col:1, el:'Te', tdos:InTe_tdos, total:InTe_Te_total, s:InTe_Te_s, p:InTe_Te_p, d:InTe_Te_d, f:InTe_Te_f}
];

// ---- layout & style ----
const CANVAS_W = 1089;
const ROW_TOPS = [20, 213, 405, 601, 795, 988, 1182, 1375, 1569];
const PANEL_H = 155.5;
const COL_LEFT = [75, 597];
const PANEL_W = 498;
const FONT = 'Liberation Serif';
const FRAME = '#3a3a3a';
const GRAY = '#bcbcbc';
const COLORS = {total:'#000000', s:'#0b72bb', p:'#e4231c', d:'#9a1fe0', f:'#009e73'};
const LEGEND_ROW = 16.6;
const fmt = v => v.toFixed(1).replace('.', ',');

const chart = echarts.init(document.getElementById('chart'), null, {renderer:'canvas'});

const grid = [], xAxis = [], yAxis = [], series = [], legend = [];

panels.forEach((pn, i) => {
  const left = COL_LEFT[pn.col];
  const top = ROW_TOPS[pn.row];
  const bottomRow = pn.row === ROW_TOPS.length - 1;
  grid.push({left: left, top: top, width: PANEL_W, height: PANEL_H, show: false});

  const lineStyle = {color: FRAME, width: 1.6};
  const tickStyle = {color: FRAME, width: 1.2};
  ['bottom', 'top'].forEach(pos => {
    xAxis.push({
      gridIndex: i, type: 'value', min: -3, max: 3, position: pos,
      axisLine: {show: true, onZero: false, lineStyle},
      axisTick: {show: true, inside: true, length: 7, customValues: X_TICKS, lineStyle: tickStyle},
      axisLabel: {show: pos === 'bottom' && bottomRow, customValues: X_TICKS, formatter: fmt,
                  fontFamily: FONT, fontSize: 18, color: '#222', margin: 12},
      splitLine: {show: false}
    });
  });
  ['left', 'right'].forEach(pos => {
    yAxis.push({
      gridIndex: i, type: 'value', min: 0, max: 2, interval: 0.5, position: pos,
      axisLine: {show: true, onZero: false, lineStyle},
      axisTick: {show: true, inside: true, length: 7, lineStyle: tickStyle},
      axisLabel: {show: pos === 'left' && pn.col === 0, formatter: fmt,
                  fontFamily: FONT, fontSize: 18, color: '#222', margin: 10},
      splitLine: {show: false}
    });
  });

  const xi = 2 * i, yi = 2 * i;
  series.push({
    type: 'line', name: 'total DOS', xAxisIndex: xi, yAxisIndex: yi,
    data: pn.tdos, smooth: 0.45, smoothMonotone: 'x', symbol: 'none', clip: true,
    color: GRAY, itemStyle: {color: GRAY},
    lineStyle: {width: 0, color: GRAY}, areaStyle: {color: GRAY, opacity: 1},
    silent: true, z: 1
  });
  const orbs = pn.f ? ['total', 's', 'p', 'd', 'f'] : ['total', 's', 'p', 'd'];
  const lineItems = [];
  orbs.forEach((o, k) => {
    const nm = pn.el + '(' + o + ')';
    lineItems.push({name: nm, icon: 'rect', itemStyle: {color: COLORS[o], borderWidth: 0}});
    series.push({
      type: 'line', name: nm, xAxisIndex: xi, yAxisIndex: yi,
      data: pn[o], smooth: 0.45, smoothMonotone: 'x', symbol: 'none', clip: true,
      color: COLORS[o], lineStyle: {color: COLORS[o], width: 2},
      silent: true, z: 2 + k
    });
  });

  const legendBase = {
    orient: 'vertical', align: 'right', padding: 0,
    right: CANVAS_W - (left + 379),
    itemWidth: 46, itemGap: LEGEND_ROW - 16, selectedMode: false,
    itemStyle: {borderWidth: 0},
    textStyle: {fontFamily: FONT, fontSize: 16, color: '#111', padding: [0, 6, 0, 0]}
  };
  // grey swatch for the total DOS
  legend.push(Object.assign({}, legendBase, {
    top: top + 9.5, itemHeight: 9,
    data: [{name: 'total DOS', icon: 'rect', itemStyle: {color: GRAY, borderWidth: 0}}]
  }));
  // thin line swatches for the projected curves
  legend.push(Object.assign({}, legendBase, {
    top: top + 9.5 + LEGEND_ROW, itemHeight: 2,
    data: lineItems
  }));
});

chart.setOption({
  animation: false,
  backgroundColor: '#ffffff',
  grid, xAxis, yAxis, series, legend,
  graphic: [
    {type: 'text', x: 21, y: 872, rotation: Math.PI / 2,
     style: {text: 'DOS (estados/eV)', fontFamily: FONT, fontSize: 24, fill: '#111',
             align: 'center', verticalAlign: 'middle', textAlign: 'center', textVerticalAlign: 'middle'}},
    {type: 'text', x: 591, y: 1761,
     style: {text: 'Energia (eV)', fontFamily: FONT, fontSize: 24, fill: '#111',
             align: 'center', verticalAlign: 'middle', textAlign: 'center', textVerticalAlign: 'middle'}}
  ]
});
</script>
</body>
</html>
